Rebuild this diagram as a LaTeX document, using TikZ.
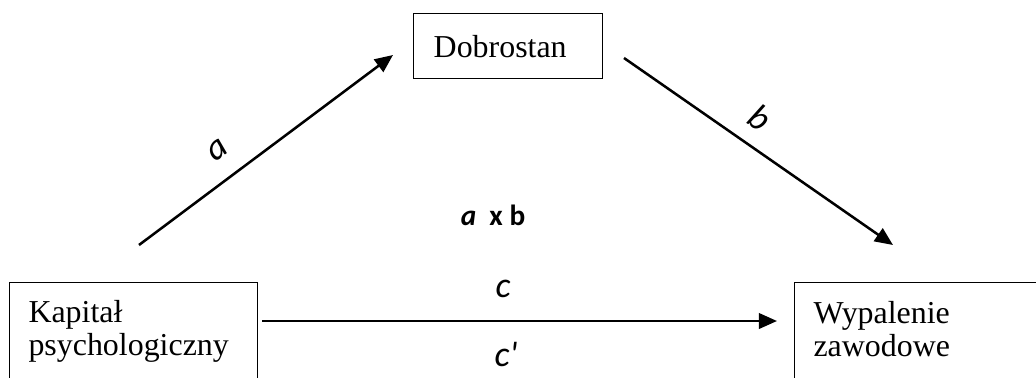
\documentclass[tikz,border=0pt]{standalone}
\usepackage{fontspec}
\setmainfont{Liberation Serif}
\newfontfamily\calibri{Carlito}
\usetikzlibrary{positioning,arrows.meta}

\begin{document}
\begin{tikzpicture}[x=0.376pt,y=-0.376pt,font=\fontsize{12}{12.5}\selectfont,
  >={Triangle[length=6.8pt,width=5.8pt]},
  box/.style={draw,line width=0.5pt,anchor=north west,inner sep=0pt},
  arr/.style={->,line width=0.95pt},
  lab/.style={font=\fontsize{13.5}{15}\selectfont\calibri\itshape}]
\useasboundingbox (0,0) rectangle (1036,378);
\clip (0,0) rectangle (1036,378);
% boxes
\node[box,minimum width=71.1pt,minimum height=24.4pt,text width=56pt,
  inner xsep=7.5pt,align=left] (dob) at (413,13) {Dobrostan};
\node[box,minimum width=93.2pt,minimum height=50pt] (kap) at (9,282) {};
\node[anchor=north west,align=left,inner sep=0pt] (kaptxt) at (28,300)
  {Kapitał\\psychologiczny};
\node[box,minimum width=100pt,minimum height=50pt] (wyp) at (794,282) {};
\node[anchor=north west,align=left,inner sep=0pt] (wyptxt) at (813,301)
  {Wypalenie\\zawodowe};
% arrow ends
\coordinate (kapout) at (139,245);
\coordinate (dobin) at (393,55);
\coordinate (dobout) at (624,58);
\coordinate (wypin) at (893,245);
\coordinate (kapright) at (262,321);
\coordinate (wypleft) at (777,321);
% paths
\draw[arr] (kapout) -- (dobin);
\draw[arr] (dobout) -- (wypin);
\draw[arr] (kapright) -- (wypleft);
% labels
\node[lab,rotate=37] (la) at (218,150) {a};
\node[lab,rotate=-35] (lb) at (760,118) {b};
\node[font=\fontsize{11}{13}\selectfont\calibri\bfseries] (lab) at (493,215)
  {\textit{a}\ \ x b};
\node[lab] (lc) at (503,289) {c};
\node[lab] (lcp) at (506,355) {c\char"0027};
\end{tikzpicture}
\end{document}
